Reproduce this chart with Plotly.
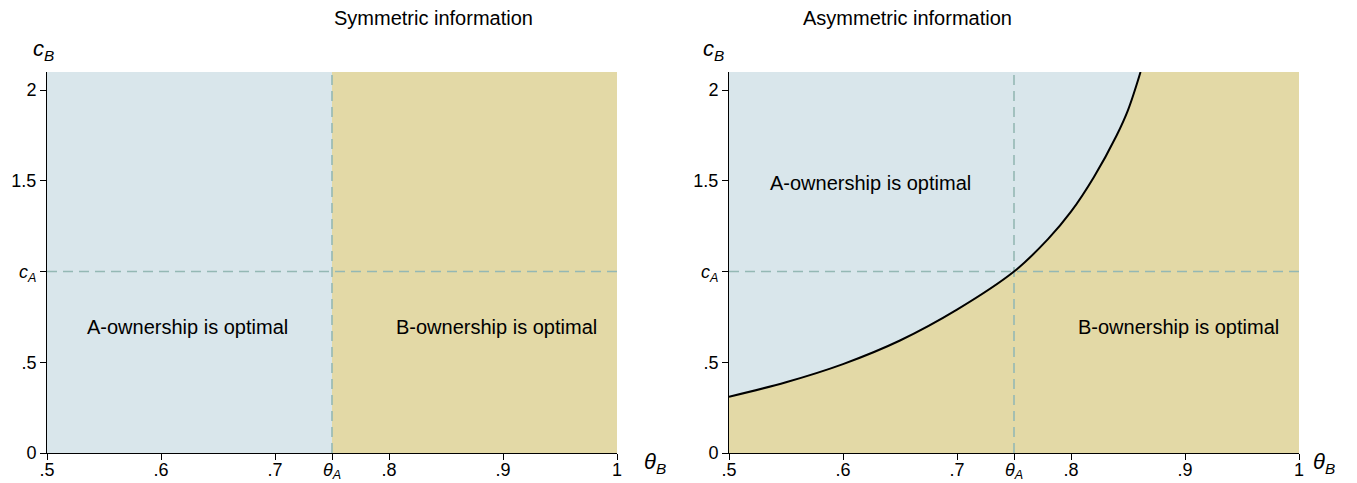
import plotly.graph_objects as go
from plotly.subplots import make_subplots

# Parameters of the model
theta_a = 0.75
c_a = 1.0
x_range = [0.5, 1.0]
y_range = [0.0, 2.1]

# Indifference curve under asymmetric information (theta_B, c_B)
curve_theta = [0.50, 0.55, 0.60, 0.65, 0.70, 0.75, 0.78, 0.80, 0.82, 0.84, 0.85, 0.861]
curve_c = [0.31, 0.39, 0.49, 0.62, 0.79, 1.00, 1.18, 1.33, 1.52, 1.75, 1.89, 2.10]

# Tick labels
x_tickvals = [0.5, 0.6, 0.7, theta_a, 0.8, 0.9, 1.0]
x_ticktext = [".5", ".6", ".7", "<i>θ</i><sub><i>A</i></sub>", ".8", ".9", "1"]
y_tickvals = [0.0, 0.5, c_a, 1.5, 2.0]
y_ticktext = ["0", ".5", "<i>c</i><sub><i>A</i></sub>", "1.5", "2"]

panel_titles = ["Symmetric information", "Asymmetric information"]
region_labels = ["A-ownership is optimal", "B-ownership is optimal"]

BLUE = "rgb(217,230,235)"
TAN = "rgb(227,217,166)"
DASH = "rgb(148,184,180)"
FONT = "Liberation Sans, Arial, sans-serif"

fig = make_subplots(rows=1, cols=2, horizontal_spacing=0.08)

def add_poly(xs, ys, color, col):
    fig.add_trace(go.Scatter(x=xs, y=ys, fill="toself", fillcolor=color, mode="lines",
                             line=dict(width=0), hoverinfo="skip", showlegend=False),
                  row=1, col=col)

# Left panel: regions split at theta_A
add_poly([x_range[0], theta_a, theta_a, x_range[0]], [y_range[0], y_range[0], y_range[1], y_range[1]], BLUE, 1)
add_poly([theta_a, x_range[1], x_range[1], theta_a], [y_range[0], y_range[0], y_range[1], y_range[1]], TAN, 1)

# Right panel: blue everywhere, tan below the curve
add_poly([x_range[0], x_range[1], x_range[1], x_range[0]], [y_range[0], y_range[0], y_range[1], y_range[1]], BLUE, 2)
add_poly(curve_theta + [x_range[1], x_range[1], x_range[0]],
         curve_c + [y_range[1], y_range[0], y_range[0]], TAN, 2)

# Reference lines at theta_A and c_A
for col in (1, 2):
    fig.add_trace(go.Scatter(x=[theta_a, theta_a], y=y_range, mode="lines",
                             line=dict(color=DASH, width=1.6, dash="10px,6px"),
                             hoverinfo="skip", showlegend=False), row=1, col=col)
    fig.add_trace(go.Scatter(x=x_range, y=[c_a, c_a], mode="lines",
                             line=dict(color=DASH, width=1.6, dash="10px,6px"),
                             hoverinfo="skip", showlegend=False), row=1, col=col)

fig.add_trace(go.Scatter(x=curve_theta, y=curve_c, mode="lines",
                         line=dict(color="black", width=2, shape="spline", smoothing=1.0),
                         hoverinfo="skip", showlegend=False), row=1, col=2)

x_domains = [[47 / 1357, 617 / 1357], [729 / 1357, 1299 / 1357]]
y_domain = [30 / 483, 411 / 483]

axis_common = dict(showline=True, linecolor="black", linewidth=1, ticks="outside",
                   ticklen=6, tickcolor="black", showgrid=False, zeroline=False,
                   automargin=False, tickfont=dict(size=18, color="black", family=FONT))

for i, col in enumerate((1, 2)):
    fig.update_xaxes(range=x_range, domain=x_domains[i], tickvals=x_tickvals, ticktext=x_ticktext,
                     ticklabelstandoff=-6, row=1, col=col, **axis_common)
    fig.update_yaxes(range=y_range, domain=y_domain, tickvals=y_tickvals, ticktext=y_ticktext,
                     row=1, col=col, **axis_common)

annotations = []
for i in range(2):
    dom = x_domains[i]
    annotations.append(dict(text=panel_titles[i], xref="paper", yref="paper",
                            x=(dom[0] + dom[1]) / 2, y=1 - 18 / 483, yanchor="middle",
                            showarrow=False, font=dict(size=20, color="black", family=FONT)))
    annotations.append(dict(text="<i>c</i><sub><i>B</i></sub>", xref="paper", yref="paper",
                            x=dom[0] - 16 / 1357, y=1 - 50 / 483, yanchor="middle",
                            showarrow=False, font=dict(size=22, color="black", family=FONT)))
    annotations.append(dict(text="<i>θ</i><sub><i>B</i></sub>", xref="paper", yref="paper",
                            x=dom[1] + 38 / 1357, y=1 - 463 / 483, yanchor="middle",
                            showarrow=False, font=dict(size=22, color="black", family=FONT)))

label_font = dict(size=20, color="black", family=FONT)
annotations += [
    dict(text=region_labels[0], xref="x", yref="y", x=0.623, y=0.695, showarrow=False, font=label_font),
    dict(text=region_labels[1], xref="x", yref="y", x=0.894, y=0.695, showarrow=False, font=label_font),
    dict(text=region_labels[0], xref="x2", yref="y2", x=0.624, y=1.49, showarrow=False, font=label_font),
    dict(text=region_labels[1], xref="x2", yref="y2", x=0.894, y=0.695, showarrow=False, font=label_font),
]

fig.update_layout(width=1357, height=483, margin=dict(l=0, r=0, t=0, b=0),
                  paper_bgcolor="white", plot_bgcolor="white",
                  annotations=annotations, font=dict(family=FONT))

fig.write_html("out.html")
